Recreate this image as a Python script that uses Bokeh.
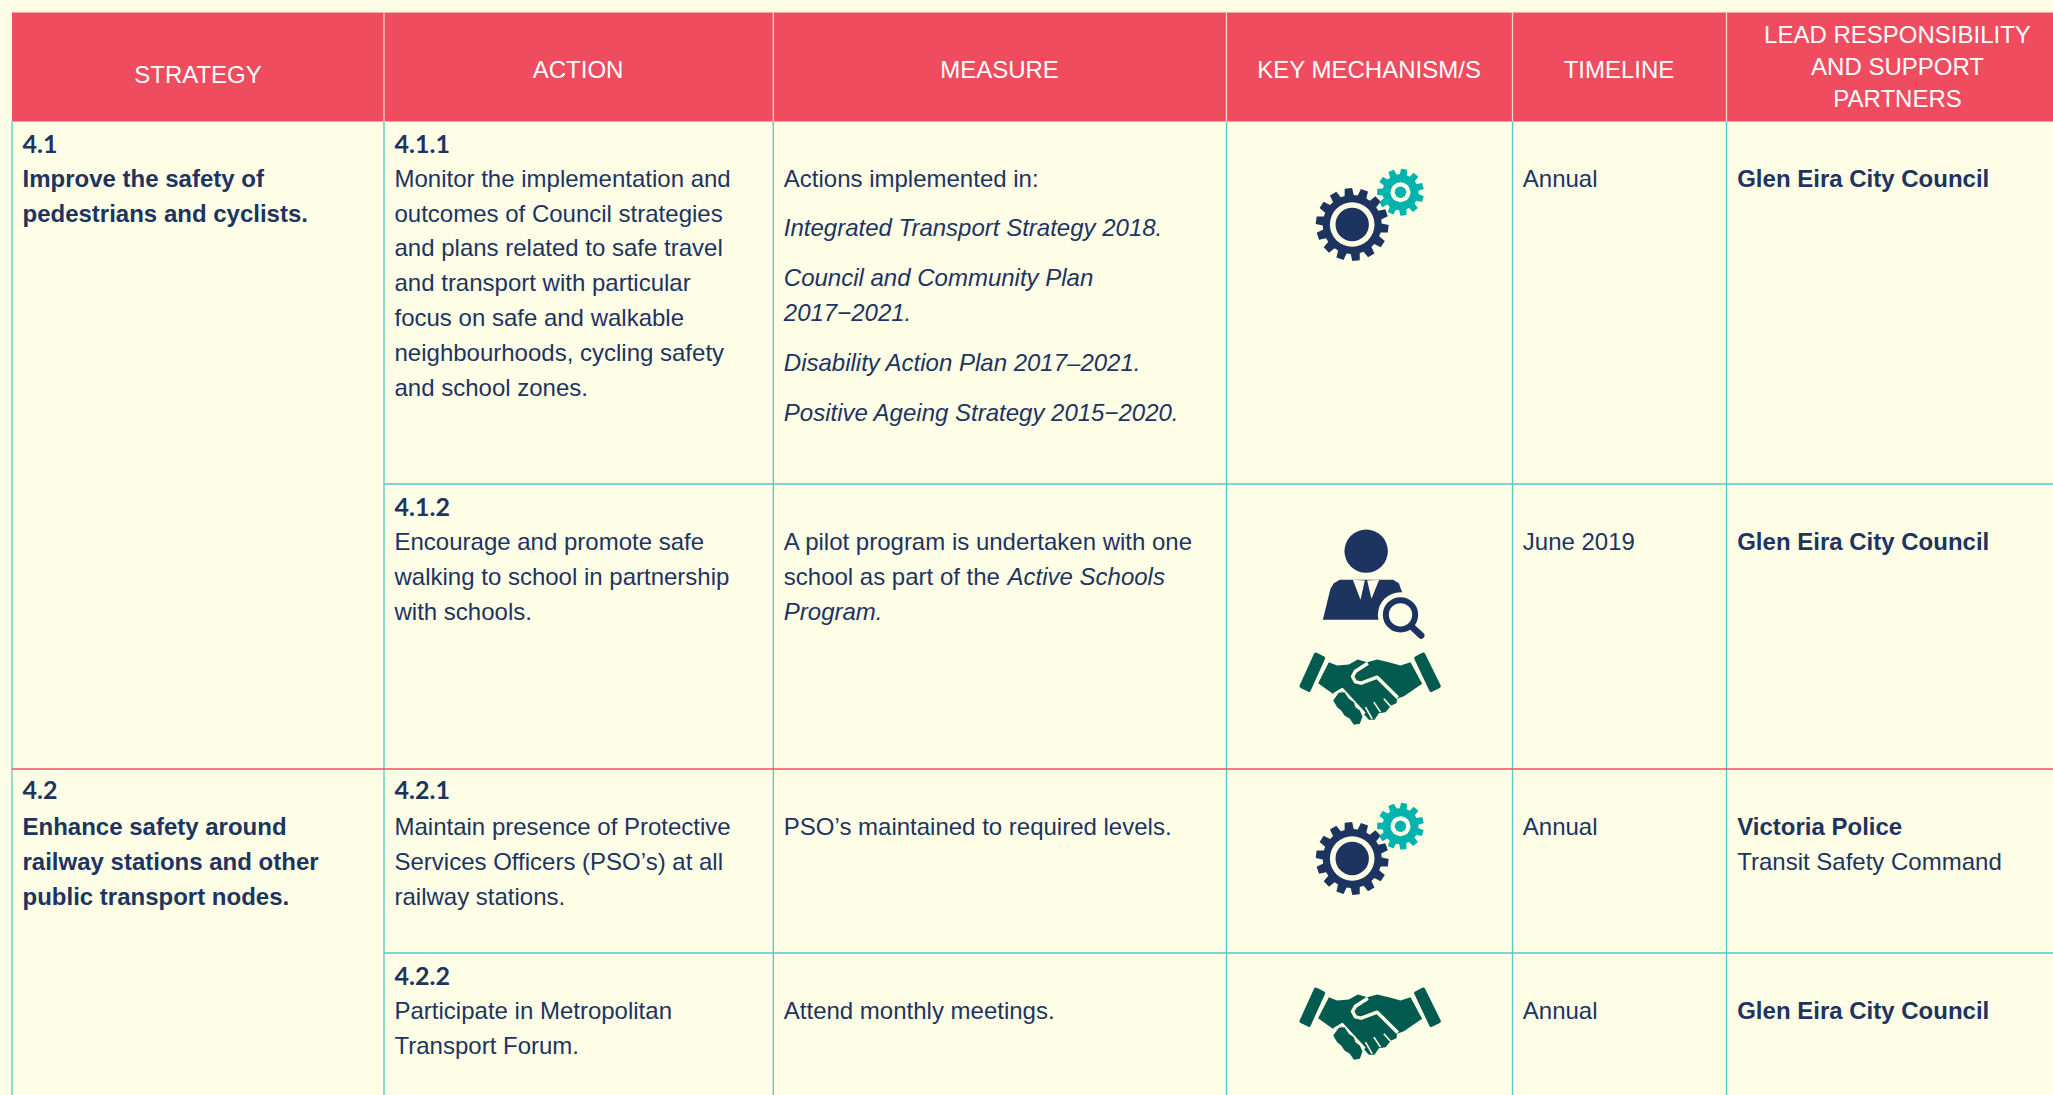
from math import pi, cos, sin
from bokeh.plotting import figure
from bokeh.models import Range1d
from bokeh.core.properties import value
from bokeh.embed import file_html
from bokeh.resources import INLINE

# ---- table content
headers = ["STRATEGY", "ACTION", "MEASURE", "KEY MECHANISM/S", "TIMELINE"]
lead_header = ["LEAD RESPONSIBILITY", "AND SUPPORT", "PARTNERS"]
strategy_ids = ["4.1", "4.2"]
strategy_1 = ["Improve the safety of", "pedestrians and cyclists."]
strategy_2 = ["Enhance safety around", "railway stations and other", "public transport nodes."]
action_ids = ["4.1.1", "4.1.2", "4.2.1", "4.2.2"]
action_1 = ["Monitor the implementation and", "outcomes of Council strategies", "and plans related to safe travel",
            "and transport with particular", "focus on safe and walkable", "neighbourhoods, cycling safety", "and school zones."]
action_2 = ["Encourage and promote safe", "walking to school in partnership", "with schools."]
action_3 = ["Maintain presence of Protective", "Services Officers (PSO\u2019s) at all", "railway stations."]
action_4 = ["Participate in Metropolitan", "Transport Forum."]
measure_1_head = "Actions implemented in:"
measure_1 = ["Integrated Transport Strategy 2018.", "Council and Community Plan", "2017\u22122021.",
             "Disability Action Plan 2017\u20132021.", "Positive Ageing Strategy 2015\u22122020."]
measure_2 = ["A pilot program is undertaken with one", "school as part of the"]
measure_2_it = ["Active Schools", "Program."]
measure_3 = ["PSO\u2019s maintained to required levels."]
measure_4 = ["Attend monthly meetings."]
timelines = ["Annual", "June 2019", "Annual", "Annual"]
leads = ["Glen Eira City Council", "Glen Eira City Council", "Victoria Police", "Glen Eira City Council"]
lead_sub = "Transit Safety Command"

# ---- style
CREAM, NAVY, RED, TEAL, GEAR, GREEN = "#FEFDE6", "#1D3461", "#EF4C60", "#4FCBC0", "#00B3AD", "#035B4F"
SANS = value("Liberation Sans")
NUM = value("Lato")
FS = "24px"
HFS = "24px"

W, H = 2053, 1095
p = figure(width=W, height=H, x_range=Range1d(0, W), y_range=Range1d(H, 0), output_backend="svg",
           toolbar_location=None, x_axis_type=None, y_axis_type=None, min_border=0,
           outline_line_color=None, background_fill_color=CREAM, border_fill_color=CREAM)
p.grid.visible = False

L, X1, X2, X3, X4, X5 = 11.5, 383.5, 772.8, 1226, 1512, 1726
TOP, HB, R1, R2, R3 = 12, 121, 483.5, 768.5, 952.5

# header band and rules
p.quad(left=[L], right=[W], top=[TOP], bottom=[HB], fill_color=RED, line_color=None)
p.segment(x0=[X1, X2, X3, X4, X5], x1=[X1, X2, X3, X4, X5], y0=[TOP]*5, y1=[HB]*5, line_color="#FBD3D0", line_width=1.3)
p.segment(x0=[L, X1, X2, X3, X4, X5], x1=[L, X1, X2, X3, X4, X5], y0=[HB]*6, y1=[H]*6, line_color=TEAL, line_width=1.3)
p.segment(x0=[X1, X1], x1=[W, W], y0=[R1, R3], y1=[R1, R3], line_color=TEAL, line_width=1.3)
p.segment(x0=[L], x1=[W], y0=[R2], y1=[R2], line_color=RED, line_width=1.5)

OFF = 9.2   # distance between the text anchor drawn and its baseline


def txt(x, y, t, font=SANS, size=FS, style="normal", color=NAVY, align="left"):
    p.text(x=x, y=[v - OFF for v in y], text=t, text_font=font, text_font_size=size, text_font_style=style,
           text_color=color, text_align=align, text_baseline="alphabetic")


# header text
txt([197.5, 577.6, 999, 1368.8, 1618.5], [82.7, 77.7, 77.7, 77.7, 77.7], headers, size=HFS, color="white", align="center")
txt([1897.0]*3, [42.7, 74.7, 106.7], lead_header, size=HFS, color="white", align="center")

AX, MX, TX, LX, SX = 394, 783.3, 1522.3, 1736.7, 22
# id labels
txt([SX, SX], [152.7, 798.8], strategy_ids, font=NUM, size="25px", style="bold")
txt([AX]*4, [152.7, 515.4, 798.8, 984.5], action_ids, font=NUM, size="25px", style="bold")
# strategy
txt([SX, SX], [186.7, 221.7], strategy_1, style="bold")
txt([SX]*3, [834.7, 869.7, 904.7], strategy_2, style="bold")
# action
txt([AX]*7, [186.7, 221.7, 256.5, 291.5, 326.2, 360.7, 395.7], action_1)
txt([AX]*3, [550, 585, 620], action_2)
txt([AX]*3, [834.7, 869.7, 904.7], action_3)
txt([AX]*2, [1019.3, 1054], action_4)
# measure
txt([MX], [186.7], [measure_1_head])
txt([MX]*5, [236.5, 286, 321, 371, 421], measure_1, style="italic")
txt([MX, MX], [550, 585], measure_2)
txt([1007, MX], [585, 620], measure_2_it, style="italic")
txt([MX], [834.7], measure_3)
txt([MX], [1019.3], measure_4)
# timeline / lead
txt([TX]*4, [186.7, 550, 834.7, 1019.3], timelines)
txt([LX]*4, [186.7, 550, 834.7, 1019.3], leads, style="bold")
txt([LX], [869.7], [lead_sub])


# ---- icons
def gear(cx, cy, r_out, r_root, teeth, phase):
    xs, ys = [], []
    step = 2 * pi / teeth
    for i in range(teeth):
        a = phase + i * step
        for da, r in ((-0.30, r_root), (-0.20, r_out), (0.20, r_out), (0.30, r_root)):
            xs.append(cx + r * cos(a + da * step * 1.15))
            ys.append(cy + r * sin(a + da * step * 1.15))
    return xs, ys


def gears(dy):
    p.patch(*gear(1351.7, 224 + dy, 36.5, 29.5, 14, 0.12), fill_color=NAVY, line_color=None)
    p.circle(x=[1351.7], y=[224 + dy], radius=22.3, fill_color=CREAM, line_color=None)
    p.circle(x=[1351.7], y=[224 + dy], radius=16.7, fill_color=NAVY, line_color=None)
    p.patch(*gear(1400, 191.7 + dy, 23.5, 18, 11, 0.3), fill_color=GEAR, line_color=None)
    p.circle(x=[1400], y=[191.7 + dy], radius=10, fill_color=CREAM, line_color=None)
    p.circle(x=[1400], y=[191.7 + dy], radius=5.7, fill_color=GEAR, line_color=None)


def Z(pts, dy=0):
    return [1270 + a / 3 for a, b in pts], [510 + b / 3 + dy for a, b in pts]


def person():
    p.circle(x=[1270 + 287 / 3], y=[510 + 122 / 3], radius=21.7, fill_color=NAVY, line_color=None)
    body = [(157, 328), (180, 235), (190, 218), (208, 208), (368, 208), (385, 218), (395, 245), (395, 328)]
    p.patch(*Z(body), fill_color=NAVY, line_color=None)
    for wedge in ([(247, 208), (270, 268), (283, 210)], [(290, 210), (303, 265), (326, 208)]):
        p.patch(*Z(wedge), fill_color=CREAM, line_color=None)
    p.circle(*[[1270 + 390 / 3], [510 + 313 / 3]], radius=68 / 3, fill_color=CREAM, line_color=None)
    p.circle(*[[1270 + 390 / 3], [510 + 313 / 3]], radius=44 / 3, fill_color=None, line_color=NAVY, line_width=6)
    p.line(*Z([(425, 350), (452, 375)]), line_color=NAVY, line_width=6.5, line_cap="round")


def handshake(dy):
    cuffs = ([(136, 432), (158, 443), (115, 538), (93, 527)], [(437, 443), (458, 432), (505, 527), (482, 538)])
    for c in cuffs:
        p.patch(*Z(c, dy), fill_color=GREEN, line_color=GREEN, line_width=4, line_join="round")
    main = [(175, 455), (200, 465), (235, 462), (262, 447), (290, 455), (320, 447), (355, 455), (390, 465), (420, 455),
            (455, 520), (400, 557), (380, 565), (378, 578), (362, 585), (345, 605), (325, 608), (312, 628), (295, 628),
            (262, 590), (225, 545), (200, 545), (190, 552), (143, 518)]
    p.patch(*Z(main, dy), fill_color=GREEN, line_color=None)
    # thumb outline and finger gaps
    p.line(*Z([(292, 458), (255, 482), (246, 498), (255, 514), (272, 518), (320, 500), (382, 562)], dy),
           line_color=CREAM, line_width=3.5, line_join="round")
    for a, b in ([(340, 565), (360, 587)], [(310, 575), (330, 605)], [(285, 590), (305, 625)]):
        p.line(*Z([a, b], dy), line_color=CREAM, line_width=1.6)
    p.line(*Z([(190, 552), (215, 537), (282, 610)], dy), line_color=CREAM, line_width=3.2, line_join="round")
    fingers = [(188, 570), (205, 547), (222, 545), (235, 565), (250, 575), (255, 590), (268, 600), (276, 618),
               (268, 640), (250, 643), (238, 625), (222, 615), (212, 600), (200, 590)]
    p.patch(*Z(fingers, dy), fill_color=GREEN, line_color=None)


gears(0)
person()
handshake(0)
gears(634)
handshake(335)

page_style = "{% block preamble %}<style>html,body{margin:0;padding:0;background:#FEFDE6;overflow:hidden}</style>{% endblock %}"
open("out.html", "w").write(file_html(p, INLINE, template=page_style))
